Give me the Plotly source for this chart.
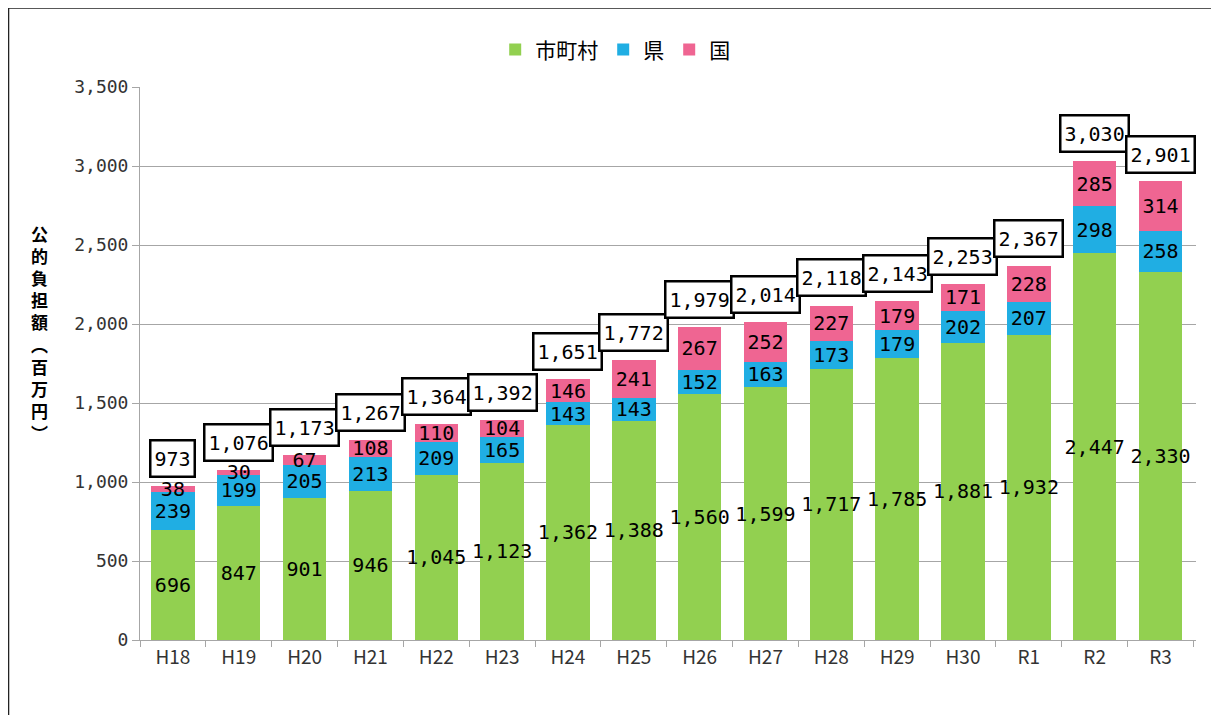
import plotly.graph_objects as go

categories = ["H18", "H19", "H20", "H21", "H22", "H23", "H24", "H25", "H26", "H27", "H28", "H29", "H30", "R1", "R2", "R3"]
municipal = [696, 847, 901, 946, 1045, 1123, 1362, 1388, 1560, 1599, 1717, 1785, 1881, 1932, 2447, 2330]
prefecture = [239, 199, 205, 213, 209, 165, 143, 143, 152, 163, 173, 179, 202, 207, 298, 258]
national = [38, 30, 67, 108, 110, 104, 146, 241, 267, 252, 227, 179, 171, 228, 285, 314]
totals = [973, 1076, 1173, 1267, 1364, 1392, 1651, 1772, 1979, 2014, 2118, 2143, 2253, 2367, 3030, 2901]

FONT = "Noto Sans CJK JP"
NUMFONT = "DejaVu Sans Mono"
GREEN = "#92D050"
BLUE = "#20AEE3"
PINK = "#EF6592"

fig = go.Figure()
for name, vals, col in [("市町村", municipal, GREEN), ("県", prefecture, BLUE), ("国", national, PINK)]:
    fig.add_trace(go.Bar(
        x=categories, y=vals, name=name, marker=dict(color=col, line=dict(width=0)),
        text=[f"{v:,}" for v in vals], textposition="inside", insidetextanchor="middle",
        textangle=0, constraintext="none",
        textfont=dict(family=NUMFONT, size=20, color="black"), cliponaxis=False,
        hoverinfo="skip",
    ))

for c, t in zip(categories, totals):
    fig.add_annotation(x=c, y=t, text=f"{t:,}", showarrow=False, yanchor="bottom", yshift=8,
                       font=dict(family=NUMFONT, size=20, color="black"), height=28, valign="middle",
                       bordercolor="black", borderwidth=2.5, borderpad=3, bgcolor="white")

# vertical y-axis title
fig.add_annotation(xref="paper", yref="paper", x=-0.095, y=0.555, xanchor="center", yanchor="middle",
                   text="<br>".join(list("公的負担額") + ["︵", "百", "万", "円", "︶"]),
                   showarrow=False, font=dict(family=FONT, size=17, color="black", weight="bold"))

# white panel with border
fig.add_shape(type="rect", xref="paper", yref="paper", x0=-0.1245, x1=1.2, y0=-0.3, y1=1.1429,
              line=dict(color="#222222", width=1.5), fillcolor="white", layer="below")

fig.update_layout(
    width=1219, height=715,
    margin=dict(l=132, r=31, t=79, b=83),
    paper_bgcolor="#F1E5FB", plot_bgcolor="white",
    barmode="stack", bargap=0.34,
    uniformtext=dict(mode="show", minsize=20),
    showlegend=True,
    legend=dict(orientation="h", x=0.45, xanchor="center", y=1.067, yanchor="middle",
                font=dict(family=FONT, size=21, color="black"), bgcolor="rgba(0,0,0,0)",
                itemwidth=30, traceorder="normal"),
    font=dict(family=FONT, color="#333333"),
)
fig.update_yaxes(range=[0, 3500], dtick=500, tickformat=",", showgrid=True, gridcolor="#A6A6A6", gridwidth=1,
                 showline=True, linecolor="#A6A6A6", ticks="outside", ticklen=7, tickcolor="#A6A6A6",
                 tickfont=dict(family=NUMFONT, size=18, color="#333333"), zeroline=False)
fig.update_xaxes(showline=True, linecolor="#A6A6A6", ticks="outside", ticklen=6, tickcolor="#A6A6A6",
                 tickson="boundaries", tickfont=dict(family=FONT, size=19, color="#333333"))

fig.write_html("out.html")
